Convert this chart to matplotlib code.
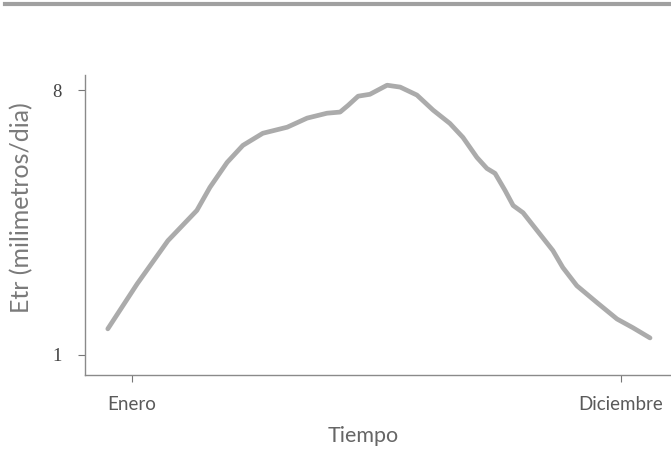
import matplotlib
matplotlib.use("Agg")
import matplotlib.pyplot as plt
from matplotlib.lines import Line2D

# Data (month index, Etr mm/day)
months = [0.456, 1.117, 1.808, 2.459, 2.753, 3.140, 3.495, 3.943, 4.491, 4.939,
          5.386, 5.681, 5.864, 6.087, 6.352, 6.738, 7.033, 7.409, 7.775, 8.151,
          8.445, 8.760, 8.984, 9.167, 9.391, 9.574, 9.797, 10.112, 10.468, 10.692,
          11.007, 11.464, 11.911, 12.267, 12.653]
etr = [1.69, 2.88, 4.02, 4.82, 5.43, 6.09, 6.54, 6.86, 7.02, 7.26, 7.39, 7.42,
       7.60, 7.84, 7.89, 8.13, 8.08, 7.87, 7.47, 7.12, 6.75, 6.22, 5.93, 5.80,
       5.35, 4.95, 4.76, 4.29, 3.76, 3.31, 2.83, 2.38, 1.95, 1.72, 1.45]
xtick_pos = [1, 12]
xtick_labels = ["Enero", "Diciembre"]
ytick_pos = [1, 8]
ytick_labels = ["1", "8"]

fig = plt.figure(figsize=(6.71, 4.5), dpi=100)
ax = fig.add_axes([85/671, 75/450, 1 - 85/671, (375-75)/450])

ax.plot(months, etr, color="#ababab", linewidth=3.4, solid_capstyle="round",
        solid_joinstyle="round")

ax.set_xlim(-0.057, 13.125)
ax.set_ylim(0.47, 8.4)

for s in ["top", "right"]:
    ax.spines[s].set_visible(False)
for s in ["left", "bottom"]:
    ax.spines[s].set_color("#8a8a8a")
    ax.spines[s].set_linewidth(1.0)

ax.set_xticks(xtick_pos)
ax.set_xticklabels(xtick_labels, fontsize=13.5, color="#5a5a5a", family="Lato")
ax.set_yticks(ytick_pos)
ax.set_yticklabels(ytick_labels, fontsize=13.5, color="#444444", family="Liberation Serif")
ax.tick_params(axis="y", length=5, width=0.8, color="#777777", pad=12)
ax.tick_params(axis="x", length=5, width=0.8, color="#777777", pad=10)

ax.set_xlabel("Tiempo", fontsize=15.5, color="#666666", family="Lato", va="top")
ax.xaxis.set_label_coords(0.474, -0.170)
ax.set_ylabel("Etr (milimetros/dia)", fontsize=18, color="#7a7a7a", family="Lato",
              va="center")
ax.yaxis.set_label_coords(-0.1075, 0.557)

# top rule
fig.add_artist(Line2D([5/671, 1.0], [1 - 4/450, 1 - 4/450], transform=fig.transFigure,
                      color="#a0a0a0", linewidth=3))

fig.savefig("out.png", dpi=100, facecolor="white")
